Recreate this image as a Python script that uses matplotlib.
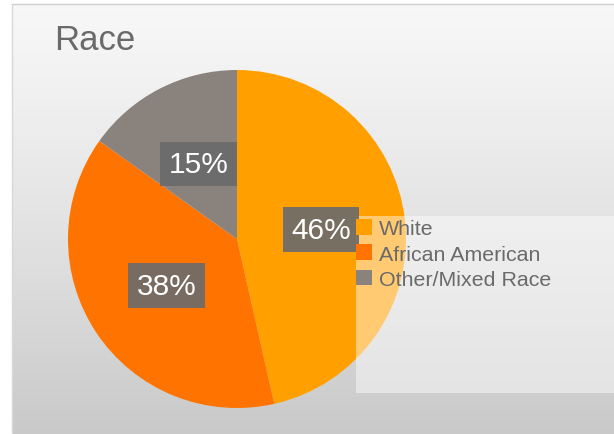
import numpy as np
import matplotlib
matplotlib.use('Agg')
from matplotlib import pyplot as plt
from matplotlib.patches import Rectangle

plt.rcParams['font.family'] = ['Liberation Sans', 'DejaVu Sans']

categories = ['White', 'African American', 'Other/Mixed Race']
shares = [46, 38, 15]
colors = ['#FFA000', '#FF7300', '#8A837D']
title = 'Race'

W, H = 614, 435
fig = plt.figure(figsize=(W / 100, H / 100), dpi=100)

# background: white margin, thin border, vertical grey gradient
bg = fig.add_axes([0, 0, 1, 1])
grad = np.linspace(0, 1, 256).reshape(-1, 1)
top = np.array([0.97, 0.97, 0.97])
bottom = np.array([0.79, 0.79, 0.79])
img = top + (bottom - top) * grad[..., None] ** 1.2
bg.imshow(img, extent=(12, W, 0, H - 5), aspect='auto', origin='upper', zorder=0)
bg.plot([12, W], [H - 5, H - 5], color='#cfcfcf', lw=1, zorder=1)
bg.plot([12, 12], [0, H - 5], color='#d8d8d8', lw=1, zorder=1)

bg.text(54, H - 24, title, fontsize=25, color='#6a6a6a', va='top', ha='left')

wedges, texts, autotexts = bg.pie(
    shares, colors=colors, startangle=90, counterclock=False,
    center=(237, H - 240), radius=169, autopct='%1.0f%%', pctdistance=0.5,
    textprops=dict(fontsize=21.5, color='white'), frame=True,
)
bg.set_xlim(0, W)
bg.set_ylim(0, H)
bg.axis('off')
for w in wedges:
    w.set_zorder(2)
for t in autotexts:
    t.set_zorder(5)
    t.set_bbox(dict(boxstyle='square,pad=0.28', fc='#6b6b6b', ec='none', alpha=0.92))

# translucent legend panel
bg.add_patch(Rectangle((356, H - 394), W - 356, 394 - 217, fc='white', ec='none',
                       alpha=0.45, zorder=3))

leg = fig.legend(wedges, categories, loc='upper left',
                 bbox_to_anchor=(356 / W, (H - 220) / H), frameon=False,
                 fontsize=15.4, labelcolor='#6a6a6a', handlelength=0.75,
                 handleheight=0.75, handletextpad=0.33, labelspacing=0.28,
                 borderpad=0, borderaxespad=0)
leg.set_zorder(6)

fig.savefig('out.png', dpi=100)
